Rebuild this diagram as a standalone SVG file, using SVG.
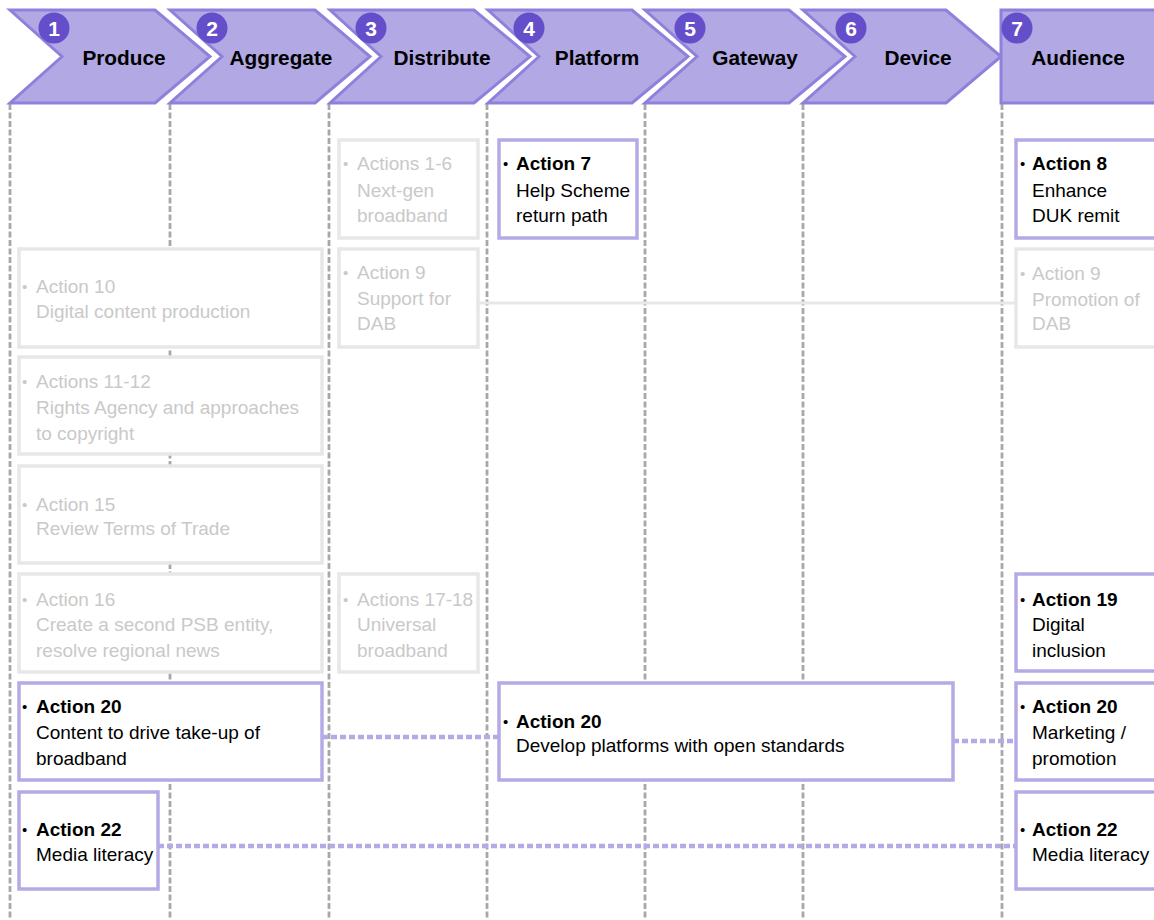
<svg xmlns="http://www.w3.org/2000/svg" width="1154" height="920" viewBox="0 0 1154 920">
<style>
.chev{fill:#b1a8e4;stroke:#8f80dc;stroke-width:3;stroke-linejoin:miter}
.num{fill:#654ec9}
.numt{font-family:"Liberation Sans",Arial,sans-serif;font-weight:bold;font-size:21px;fill:#fff;text-anchor:middle}
.hdr{font-family:"Liberation Sans",Arial,sans-serif;font-weight:bold;font-size:20.8px;fill:#000;text-anchor:middle}
.vline{stroke:#a8a8a8;stroke-width:2.8;stroke-dasharray:6 2.5;fill:none}
.gbox{fill:#fff;stroke:#e7e7e7;stroke-width:3.5}
.pbox{fill:#fff;stroke:#b4aae6;stroke-width:3.5}
.gt{font-family:"Liberation Sans",Arial,sans-serif;font-size:19px;fill:#c9c9c9}
.pt{font-family:"Liberation Sans",Arial,sans-serif;font-size:19px;fill:#000}
.b{font-weight:bold}
.bul{font-size:15px}
.dot{stroke:#b4aae6;stroke-width:4.5;stroke-dasharray:6 3;fill:none}
.gline{stroke:#e7e7e7;stroke-width:3;fill:none}
</style>
<rect width="1154" height="920" fill="#fff"/>
<g id="gridlines">
<line class="vline" x1="10" y1="104" x2="10" y2="920"/>
<line class="vline" x1="170" y1="104" x2="170" y2="920"/>
<line class="vline" x1="329" y1="104" x2="329" y2="920"/>
<line class="vline" x1="487" y1="104" x2="487" y2="920"/>
<line class="vline" x1="645" y1="104" x2="645" y2="920"/>
<line class="vline" x1="803" y1="104" x2="803" y2="920"/>
<line class="vline" x1="1002" y1="104" x2="1002" y2="920"/>
</g>
<g id="header">
<g id="stage1"><polygon class="chev" points="10,10 155,10 210,56.5 155,103 10,103 62,56.5"/><circle class="num" cx="54" cy="28" r="15.5"/><text class="numt" x="54" y="35.5">1</text><text class="hdr" x="124" y="65">Produce</text></g>
<g id="stage2"><polygon class="chev" points="170,10 315,10 370,56.5 315,103 170,103 222,56.5"/><circle class="num" cx="212" cy="28" r="15.5"/><text class="numt" x="212" y="35.5">2</text><text class="hdr" x="281" y="65">Aggregate</text></g>
<g id="stage3"><polygon class="chev" points="330,10 474,10 530,56.5 474,103 330,103 381,56.5"/><circle class="num" cx="371" cy="28" r="15.5"/><text class="numt" x="371" y="35.5">3</text><text class="hdr" x="442" y="65">Distribute</text></g>
<g id="stage4"><polygon class="chev" points="488,10 632,10 688,56.5 632,103 488,103 539,56.5"/><circle class="num" cx="529" cy="28" r="15.5"/><text class="numt" x="529" y="35.5">4</text><text class="hdr" x="597" y="65">Platform</text></g>
<g id="stage5"><polygon class="chev" points="645,10 789,10 845,56.5 789,103 645,103 697,56.5"/><circle class="num" cx="690" cy="28" r="15.5"/><text class="numt" x="690" y="35.5">5</text><text class="hdr" x="755" y="65">Gateway</text></g>
<g id="stage6"><polygon class="chev" points="803,10 946,10 1001,56.5 946,103 803,103 855,56.5"/><circle class="num" cx="851" cy="28" r="15.5"/><text class="numt" x="851" y="35.5">6</text><text class="hdr" x="918" y="65">Device</text></g>
<g id="stage7"><rect class="chev" x="1001" y="10" width="170" height="93"/><circle class="num" cx="1017" cy="28" r="15.5"/><text class="numt" x="1017" y="35.5">7</text><text class="hdr" x="1078" y="65">Audience</text></g>
</g>
<g id="connectors">
<line class="gline" x1="478" y1="303" x2="1015" y2="303"/>
<line class="dot" x1="322" y1="737" x2="498" y2="737"/>
<line class="dot" x1="953" y1="741" x2="1015" y2="741"/>
<line class="dot" x1="158" y1="846" x2="1015" y2="846"/>
</g>
<g id="a1-6"><rect class="gbox" x="339" y="140" width="139" height="98"/><text class="gt"><tspan class="bul" x="343" y="169">•</tspan><tspan x="357" y="170">Actions 1-6</tspan><tspan x="357" y="197">Next-gen</tspan><tspan x="357" y="222">broadband</tspan></text></g>
<g id="a9s"><rect class="gbox" x="339" y="249" width="139" height="98"/><text class="gt"><tspan class="bul" x="343" y="278">•</tspan><tspan x="357" y="279">Action 9</tspan><tspan x="357" y="305">Support for</tspan><tspan x="357" y="330">DAB</tspan></text></g>
<g id="a7"><rect class="pbox" x="499" y="140" width="138" height="98"/><text class="pt"><tspan class="bul" x="503" y="169">•</tspan><tspan class="b" x="516" y="170">Action 7</tspan><tspan x="516" y="197">Help Scheme</tspan><tspan x="516" y="222">return path</tspan></text></g>
<g id="a8"><rect class="pbox" x="1016" y="140" width="140" height="98"/><text class="pt"><tspan class="bul" x="1020" y="169">•</tspan><tspan class="b" x="1032" y="170">Action 8</tspan><tspan x="1032" y="197">Enhance</tspan><tspan x="1032" y="222">DUK remit</tspan></text></g>
<g id="a9p"><rect class="gbox" x="1016" y="249" width="140" height="98"/><text class="gt"><tspan class="bul" x="1020" y="279">•</tspan><tspan x="1032" y="280">Action 9</tspan><tspan x="1032" y="306">Promotion of</tspan><tspan x="1032" y="330">DAB</tspan></text></g>
<g id="a10"><rect class="gbox" x="19" y="249" width="303" height="98"/><text class="gt"><tspan class="bul" x="22" y="292">•</tspan><tspan x="36" y="293">Action 10</tspan><tspan x="36" y="318">Digital content production</tspan></text></g>
<g id="a11-12"><rect class="gbox" x="19" y="357" width="303" height="97"/><text class="gt"><tspan class="bul" x="22" y="387">•</tspan><tspan x="36" y="388">Actions 11-12</tspan><tspan x="36" y="414">Rights Agency and approaches</tspan><tspan x="36" y="440">to copyright</tspan></text></g>
<g id="a15"><rect class="gbox" x="19" y="466" width="303" height="97"/><text class="gt"><tspan class="bul" x="22" y="510">•</tspan><tspan x="36" y="511">Action 15</tspan><tspan x="36" y="535">Review Terms of Trade</tspan></text></g>
<g id="a16"><rect class="gbox" x="19" y="574" width="303" height="98"/><text class="gt"><tspan class="bul" x="22" y="605">•</tspan><tspan x="36" y="606">Action 16</tspan><tspan x="36" y="631">Create a second PSB entity,</tspan><tspan x="36" y="657">resolve regional news</tspan></text></g>
<g id="a17-18"><rect class="gbox" x="339" y="574" width="139" height="98"/><text class="gt"><tspan class="bul" x="343" y="605">•</tspan><tspan x="357" y="606">Actions 17-18</tspan><tspan x="357" y="631">Universal</tspan><tspan x="357" y="657">broadband</tspan></text></g>
<g id="a19"><rect class="pbox" x="1016" y="574" width="140" height="97"/><text class="pt"><tspan class="bul" x="1020" y="605">•</tspan><tspan class="b" x="1032" y="606">Action 19</tspan><tspan x="1032" y="631">Digital</tspan><tspan x="1032" y="657">inclusion</tspan></text></g>
<g id="a20l"><rect class="pbox" x="19" y="683" width="303" height="97"/><text class="pt"><tspan class="bul" x="22" y="712">•</tspan><tspan class="b" x="36" y="713">Action 20</tspan><tspan x="36" y="739">Content to drive take-up of</tspan><tspan x="36" y="765">broadband</tspan></text></g>
<g id="a20m"><rect class="pbox" x="499" y="683" width="454" height="97"/><text class="pt"><tspan class="bul" x="503" y="727">•</tspan><tspan class="b" x="516" y="728">Action 20</tspan><tspan x="516" y="752">Develop platforms with open standards</tspan></text></g>
<g id="a20r"><rect class="pbox" x="1016" y="683" width="140" height="97"/><text class="pt"><tspan class="bul" x="1020" y="712">•</tspan><tspan class="b" x="1032" y="713">Action 20</tspan><tspan x="1032" y="739">Marketing /</tspan><tspan x="1032" y="765">promotion</tspan></text></g>
<g id="a22l"><rect class="pbox" x="19" y="792" width="139" height="97"/><text class="pt"><tspan class="bul" x="22" y="835">•</tspan><tspan class="b" x="36" y="836">Action 22</tspan><tspan x="36" y="861">Media literacy</tspan></text></g>
<g id="a22r"><rect class="pbox" x="1016" y="792" width="140" height="97"/><text class="pt"><tspan class="bul" x="1020" y="835">•</tspan><tspan class="b" x="1032" y="836">Action 22</tspan><tspan x="1032" y="861">Media literacy</tspan></text></g>
</svg>
